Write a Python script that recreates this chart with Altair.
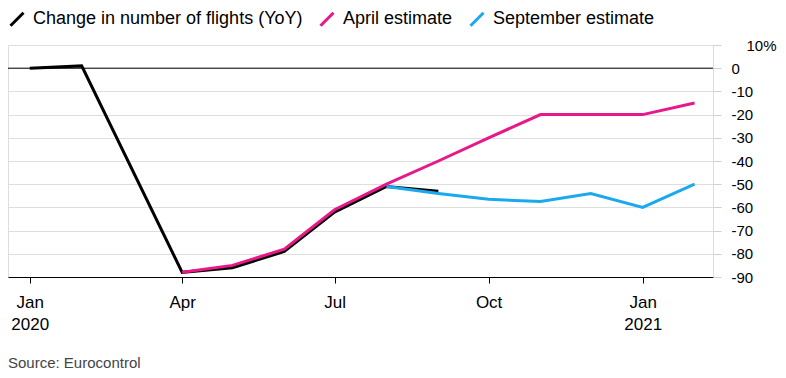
import altair as alt
import pandas as pd

months_black = ["2020-01-01", "2020-02-01", "2020-04-01", "2020-05-01", "2020-06-01",
                "2020-07-01", "2020-08-01", "2020-09-01"]
values_black = [0, 1, -88, -86, -79, -62, -51, -53]

months_april = ["2020-04-01", "2020-05-01", "2020-06-01", "2020-07-01", "2020-08-01",
                "2020-09-01", "2020-10-01", "2020-11-01", "2020-12-01", "2021-01-01", "2021-02-01"]
values_april = [-88, -85, -78, -61, -50, -40, -30, -20, -20, -20, -15]

months_sept = ["2020-08-01", "2020-09-01", "2020-10-01", "2020-11-01", "2020-12-01",
               "2021-01-01", "2021-02-01"]
values_sept = [-51, -54, -56.5, -57.5, -54, -60, -50]

series_names = ["Change in number of flights (YoY)", "April estimate", "September estimate"]
series_colors = ["#000000", "#e8178a", "#1ba9ee"]

y_ticks = [10, 0, -10, -20, -30, -40, -50, -60, -70, -80, -90]

source_text = "Source: Eurocontrol"

rows = []
for order, (name, ms, vs) in enumerate(zip(series_names,
                                           [months_black, months_april, months_sept],
                                           [values_black, values_april, values_sept])):
    for m, v in zip(ms, vs):
        rows.append({"series": name, "date": m, "value": v, "order": order})
df = pd.DataFrame(rows)

FONT = "Liberation Sans"

x_scale = alt.Scale(type="utc", domain=[alt.DateTime(year=2019, month=12, date=19, utc=True),
                                        alt.DateTime(year=2021, month=2, date=12, utc=True)])
y_scale = alt.Scale(domain=[-90, 10], nice=False, zero=False)

x_axis = alt.Axis(
    title=None,
    values=[alt.DateTime(year=2020, month=1, date=1, utc=True),
            alt.DateTime(year=2020, month=4, date=1, utc=True),
            alt.DateTime(year=2020, month=7, date=1, utc=True),
            alt.DateTime(year=2020, month=10, date=1, utc=True),
            alt.DateTime(year=2021, month=1, date=1, utc=True)],
    labelExpr="utcmonth(datum.value)==0 ? [utcFormat(datum.value,'%b'), utcFormat(datum.value,'%Y')] : utcFormat(datum.value,'%b')",
    grid=False, domain=True, domainColor="#000000", domainWidth=1,
    ticks=True, tickColor="#000000", tickSize=6,
    labelFont=FONT, labelFontSize=17, labelColor="#000000", labelPadding=11,
    labelLineHeight=22, labelBaseline="top",
)
y_axis = alt.Axis(
    title=None, orient="right", values=y_ticks,
    labelExpr="datum.value==10 ? '10%' : toString(datum.value)",
    labelOverlap=False,
    grid=True, gridColor="#dedede", gridWidth=1, domain=False,
    ticks=True, tickColor="#d0d0d0", tickSize=8,
    labelFont=FONT, labelFontSize=15, labelColor="#000000",
    labelPadding={"condition": {"test": "datum.value == 10", "value": 25}, "value": 10},
    labelAlign="left",
)

zero = alt.Chart(pd.DataFrame({"v": [0]})).mark_rule(color="#000000", strokeWidth=1).encode(
    y=alt.Y("v:Q", scale=y_scale, axis=y_axis)
)

lines = alt.Chart(df).mark_line(strokeWidth=3, strokeJoin="miter").encode(
    x=alt.X("date:T", scale=x_scale, axis=x_axis),
    y=alt.Y("value:Q", scale=y_scale, axis=y_axis),
    color=alt.Color("series:N", sort=series_names,
                    scale=alt.Scale(domain=series_names, range=series_colors),
                    legend=alt.Legend(
                        title=None, orient="none", legendX=0, legendY=-35,
                        direction="horizontal", symbolType="M-1,1L1,-1",
                        symbolStrokeWidth=3, symbolSize=170, symbolFillColor="transparent",
                        labelFont=FONT, labelFontSize=18, labelColor="#000000",
                        labelLimit=400, columnPadding=11, labelOffset=7, symbolOffset=0,
                        padding=0)),
    order=alt.Order("order:Q"),
    detail="series:N",
)

source = alt.Chart(pd.DataFrame({"t": [source_text]})).mark_text(
    align="left", baseline="alphabetic", font=FONT, fontSize=15, color="#444444"
).encode(x=alt.value(0), y=alt.value(323), text="t:N")

chart = alt.layer(zero, lines, source).properties(
    width=705, height=232,
    autosize=alt.AutoSizeParams(type="none"),
    padding={"left": 0, "top": 37, "right": 65, "bottom": 93},
).configure_view(stroke=None).configure(background="white")

chart.save("out.html", embed_options={"renderer": "svg", "actions": False})
